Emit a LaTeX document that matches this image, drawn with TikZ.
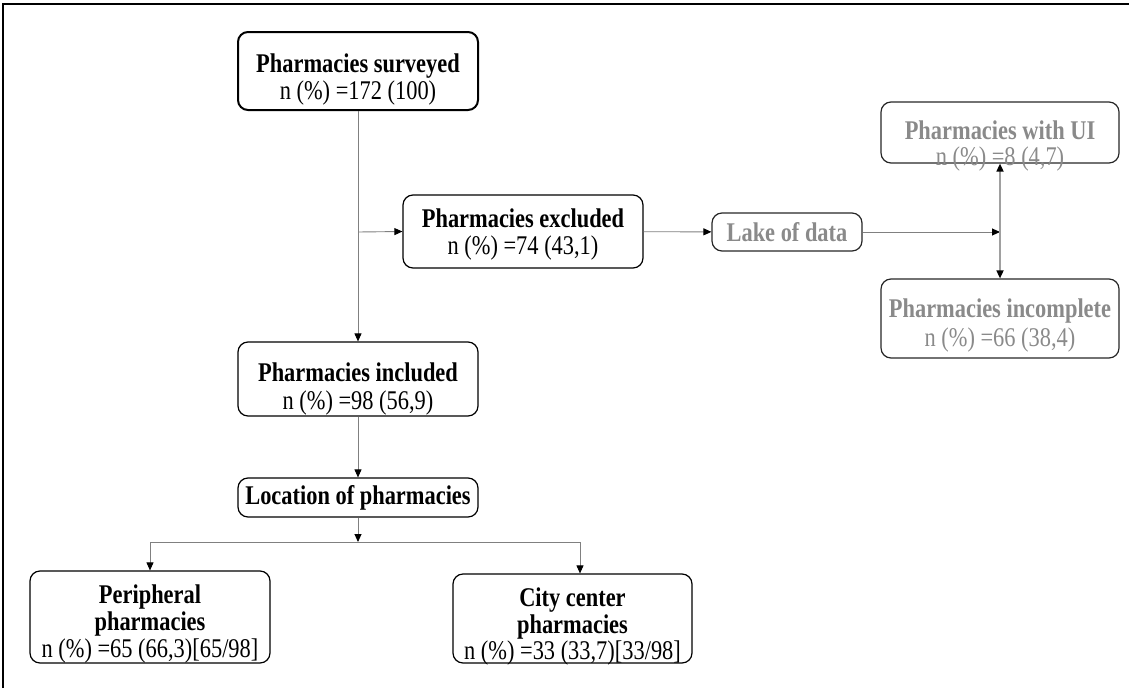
\documentclass[tikz,border=0pt]{standalone}
\usepackage{fontspec}
\setmainfont{Liberation Serif}[FakeStretch=0.83]
\usetikzlibrary{arrows.meta}
\definecolor{linegray}{HTML}{808080}
\definecolor{txtgray}{HTML}{8A8A8A}
\definecolor{vgray}{HTML}{A0A0A0}
\newcommand\boxtext[3]{\raisebox{#1}[\height][\depth]{\fontsize{27}{#2}\selectfont\begin{tabular}{@{}c@{}}#3\end{tabular}}}
\begin{document}
\begin{tikzpicture}[x=1pt,y=-1pt,
  box/.style={draw=black,line width=1.2pt,rounded corners=10pt,inner sep=0pt,
    font=\fontsize{27}{27}\selectfont},
  gbox/.style={box,draw=black!85,text=txtgray},
  conn/.style={draw=linegray,line width=0.9pt,-{Triangle[length=8pt,width=7pt,color=black]}},
  vconn/.style={draw=vgray,line width=1.6pt,-{Triangle[length=8pt,width=7pt,color=black]}},
  plain/.style={draw=linegray,line width=0.9pt},
  frame/.style={draw=black,line width=2pt}]
\useasboundingbox (0,0) rectangle (1129,688);
\coordinate (fl) at (3,688);
\coordinate (fc) at (3,4);
\coordinate (fr) at (1129,4);
\draw[frame] (fl) -- (fc) -- (fr);

\node[box,line width=2pt,minimum width=240pt,minimum height=78pt] (surv) at (358,71)
  {\boxtext{-10pt}{27}{\textbf{Pharmacies surveyed}\\n (\%) =172 (100)}};
\node[box,minimum width=240pt,minimum height=73pt] (excl) at (523,231.5)
  {\boxtext{-4pt}{26}{\textbf{Pharmacies excluded}\\n (\%) =74 (43,1)}};
\node[gbox,minimum width=150pt,minimum height=38pt] (lake) at (787,232)
  {\textbf{Lake of data}};
\node[gbox,minimum width=238pt,minimum height=61pt] (ui) at (1000,132.5)
  {\boxtext{-14pt}{23}{\textbf{Pharmacies with UI}\\n (\%) =8 (4,7)}};
\node[gbox,minimum width=238pt,minimum height=79pt] (inc) at (1000,318.5)
  {\boxtext{-8pt}{29}{\textbf{Pharmacies incomplete}\\n (\%) =66 (38,4)}};
\node[box,minimum width=240pt,minimum height=74pt] (incl) at (358,379)
  {\boxtext{-11pt}{28}{\textbf{Pharmacies included}\\n (\%) =98 (56,9)}};
\node[box,minimum width=240pt,minimum height=39pt] (loc) at (358,497.5)
  {\textbf{Location of pharmacies}};
\node[box,minimum width=240pt,minimum height=92pt] (peri) at (150,617)
  {\boxtext{-8pt}{26}{\textbf{Peripheral}\\\textbf{pharmacies}\\n (\%) =65 (66,3)[65/98]}};
\node[box,minimum width=239pt,minimum height=89pt] (city) at (572.5,618.5)
  {\boxtext{-9pt}{25}{\textbf{City center}\\\textbf{pharmacies}\\n (\%) =33 (33,7)[33/98]}};

\coordinate (j1) at (358,232);
\coordinate (jr) at (1000,232);
\coordinate (b) at (358,542);
\coordinate (bl) at (150,542);
\coordinate (br) at (580,542);

\draw[conn] (surv) -- (incl);
\draw[conn] (j1) -- (excl.west);
\draw[conn] (excl) -- (lake);
\draw[conn] (lake) -- (jr);
\draw[vconn] (jr) -- (ui);
\draw[vconn] (jr) -- (inc);
\draw[conn] (incl) -- (loc);
\draw[conn] (loc) -- (b);
\draw[plain] (bl) -- (br);
\draw[conn] (bl) -- (peri);
\draw[conn] (br) -- (br |- city.north);
\end{tikzpicture}
\end{document}
